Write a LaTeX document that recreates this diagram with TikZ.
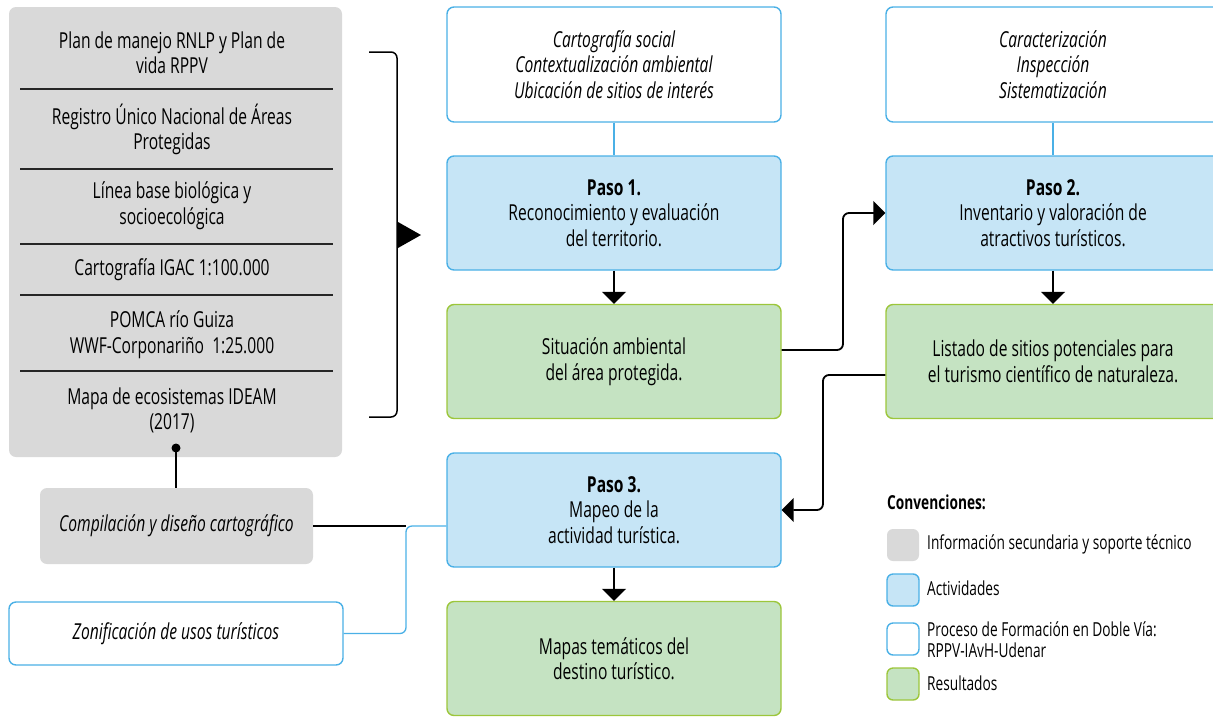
\documentclass[tikz,border=0pt]{standalone}
\usepackage{fontspec}
\setmainfont{Open Sans}[FakeStretch=0.71]
\usetikzlibrary{arrows.meta}
\definecolor{grayfill}{HTML}{D9D9D9}
\definecolor{bluefill}{HTML}{C6E5F6}
\definecolor{blueline}{HTML}{4AB0E6}
\definecolor{greenfill}{HTML}{C5E3C2}
\definecolor{greenline}{HTML}{9CC63B}
\tikzset{
  base/.style={rounded corners=7pt, minimum width=334pt, align=center, inner sep=0pt, font=\fontsize{22}{25.5}\selectfont},
  graybox/.style={base, fill=grayfill, draw=none},
  actbox/.style={base, fill=bluefill, draw=blueline, line width=1.4pt, minimum height=114pt},
  resbox/.style={base, fill=greenfill, draw=greenline, line width=1.4pt, minimum height=114pt},
  procbox/.style={base, fill=white, draw=blueline, line width=1.4pt},
  txt/.style={align=center, inner sep=0pt, font=\fontsize{22}{25.5}\selectfont},
  sep/.style={line width=1.3pt, black!85},
  flow/.style={line width=1.8pt, -{Triangle[width=24pt,length=12pt]}},
  bline/.style={line width=1.3pt, blueline},
  kline/.style={line width=1.5pt, black},
  legbox/.style={rounded corners=6pt, minimum width=32pt, minimum height=32pt, inner sep=0pt, line width=1.4pt},
  legtxt/.style={anchor=west, align=left, inner sep=0pt, font=\fontsize{19.3}{21}\selectfont}
}
\begin{document}
\begin{tikzpicture}[x=1pt,y=-1pt]
\useasboundingbox (0,0) rectangle (1213,716);
% big gray box
\node[graybox, minimum width=333pt, minimum height=450pt] (info) at (175.5,232) {};
\node[txt] (i1) at (172,52.5) {Plan de manejo RNLP y Plan de\\vida RPPV};
\node[txt] (i2) at (172,129.5) {Registro Único Nacional de Áreas\\Protegidas};
\node[txt] (i3) at (172,205.5) {Línea base biológica y\\socioecológica};
\node[txt] (i4) at (172,270) {Cartografía IGAC 1:100.000};
\node[txt] (i5) at (172,334.5) {POMCA río Guiza\\WWF-Corponariño\ \ 1:25.000};
\node[txt] (i6) at (172,410.5) {Mapa de ecosistemas IDEAM\\(2017)};
\foreach \yy in {89,169,244,295,371} \draw[sep] (20,\yy) -- (333,\yy);
% bracket
\draw[kline, rounded corners=6pt] (369,52) -- (397,52) -- (397,417) -- (369,417);
\fill (398,222) -- (421,235) -- (398,248) -- cycle;
% column 1
\node[procbox, minimum height=115pt] (p1) at (614,64.5) {\itshape Cartografía social\\\itshape Contextualización ambiental\\\itshape Ubicación de sitios de interés};
\node[actbox] (s1) at (614,213) {\bfseries Paso 1.\\Reconocimiento y evaluación\\del territorio.};
\node[resbox] (r1) at (614,361.5) {Situación ambiental\\del área protegida.};
\node[actbox] (s3) at (614,510) {\bfseries Paso 3.\\Mapeo de la\\actividad turística.};
\node[resbox] (r3) at (614,658.5) {Mapas temáticos del\\destino turístico.};
% column 2
\node[procbox, minimum height=115pt] (p2) at (1053,64.5) {\itshape Caracterización\\\itshape Inspección\\\itshape Sistematización};
\node[actbox] (s2) at (1053,213) {\bfseries Paso 2.\\Inventario y valoración de\\atractivos turísticos.};
\node[resbox] (r2) at (1053,361.5) {Listado de sitios potenciales para\\el turismo científico de naturaleza.};
% left lower
\node[graybox, minimum width=273pt, minimum height=76pt] (comp) at (176.5,526) {\itshape Compilación y diseño cartográfico};
\node[procbox, minimum width=334pt, minimum height=63pt] (zon) at (176,633.5) {\itshape Zonificación de usos turísticos};
% connectors
\draw[bline] (p1) -- (s1);
\draw[bline] (p2) -- (s2);
\draw[flow] (s1) -- (r1);
\draw[flow] (s2) -- (r2);
\draw[flow] (s3) -- (r3);
\coordinate (c1) at (843,350);
\draw[line width=1.8pt, rounded corners=6pt, -{Triangle[width=24pt,length=12pt]}] (r1.east |- c1) -- (c1) -- (843,213) -- (s2.west);
\coordinate (c2) at (823,375);
\draw[line width=1.8pt, rounded corners=6pt, -{Triangle[width=24pt,length=12pt]}] (r2.west |- c2) -- (c2) -- (823,510) -- (s3.east);
\fill (176,448) circle (4.5pt) coordinate (dot);
\draw[kline] (dot) -- (comp.north -| dot);
\coordinate (c3) at (406,526);
\draw[kline] (comp.east) -- (c3);
\draw[bline, rounded corners=6pt] (zon.east) -- (zon.east -| c3) -- (c3) -- (s3.west |- c3);
% legend
\node[anchor=west, inner sep=0pt, font=\fontsize{19.3}{21}\selectfont\bfseries] (lt) at (887,502) {Convenciones:};
\node[legbox, fill=grayfill] (lg1) at (903,545) {};
\node[legtxt] (lt1) at (927,544) {Información secundaria y soporte técnico};
\node[legbox, fill=bluefill, draw=blueline] (lg2) at (903,590) {};
\node[legtxt] (lt2) at (927,588) {Actividades};
\node[legbox, fill=white, draw=blueline] (lg3) at (903,639) {};
\node[legtxt] (lt3) at (927,639.5) {Proceso de Formación en Doble Vía:\\RPPV-IAvH-Udenar};
\node[legbox, fill=greenfill, draw=greenline] (lg4) at (903,684) {};
\node[legtxt] (lt4) at (927,683) {Resultados};
\end{tikzpicture}
\end{document}
